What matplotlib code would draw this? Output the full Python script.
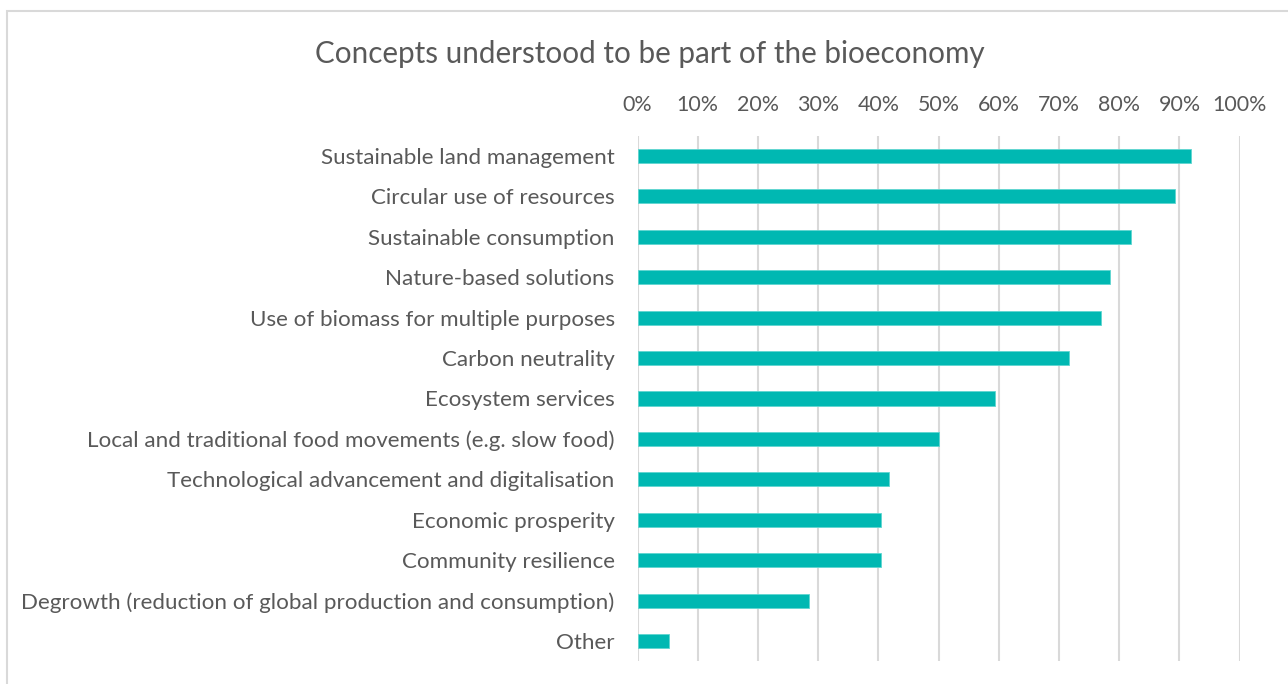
import matplotlib
matplotlib.use("Agg")
import matplotlib.pyplot as plt
from matplotlib.patches import Rectangle
from matplotlib.ticker import PercentFormatter

# Share of respondents naming each concept as part of the bioeconomy
conceitos = [
    "Sustainable land management",
    "Circular use of resources",
    "Sustainable consumption",
    "Nature-based solutions",
    "Use of biomass for multiple purposes",
    "Carbon neutrality",
    "Ecosystem services",
    "Local and traditional food movements (e.g. slow food)",
    "Technological advancement and digitalisation",
    "Economic prosperity",
    "Community resilience",
    "Degrowth (reduction of global production and consumption)",
    "Other",
]
percentuais = [91.9, 89.2, 82.0, 78.4, 77.0, 71.6, 59.4, 50.0, 41.8, 40.5, 40.5, 28.4, 5.3]
ticks_x = list(range(0, 101, 10))

cor_barra = "#00b8b2"
cor_texto = "#595959"
cor_grade = "#d9d9d9"

plt.rcParams["font.family"] = ["Lato", "DejaVu Sans"]

fig = plt.figure(figsize=(12.88, 6.84), dpi=100)
ax = fig.add_axes([0.495, 0.0333, 0.4675, 0.7682])

posicoes = list(range(len(conceitos)))
ax.barh(posicoes, percentuais, height=0.35, color=cor_barra,
        edgecolor="#5fd6d0", linewidth=0.6, zorder=3)

ax.set_xlim(0, 100)
ax.set_ylim(len(conceitos) - 0.5, -0.5)
ax.set_xticks(ticks_x)
ax.xaxis.set_major_formatter(PercentFormatter(decimals=0))
ax.xaxis.tick_top()
ax.set_yticks(posicoes)
ax.set_yticklabels(conceitos)
ax.tick_params(axis="x", length=0, pad=15, labelsize=15.4, labelcolor=cor_texto)
ax.tick_params(axis="y", length=0, pad=16.5, labelsize=16.1, labelcolor=cor_texto)
ax.grid(axis="x", color=cor_grade, linewidth=1.5, zorder=0)
for lado in ax.spines.values():
    lado.set_visible(False)

fig.text(0.5047, 0.921, "Concepts understood to be part of the bioeconomy",
         ha="center", va="center", fontsize=21.3, color=cor_texto)

# moldura do gráfico
fig.patches.append(Rectangle((7 / 1288, -0.05), 1.1, 0.05 + 1 - 11 / 684,
                             transform=fig.transFigure, fill=False,
                             edgecolor="#d9d9d9", linewidth=1.5))

fig.savefig("out.png", dpi=100, facecolor="white")
